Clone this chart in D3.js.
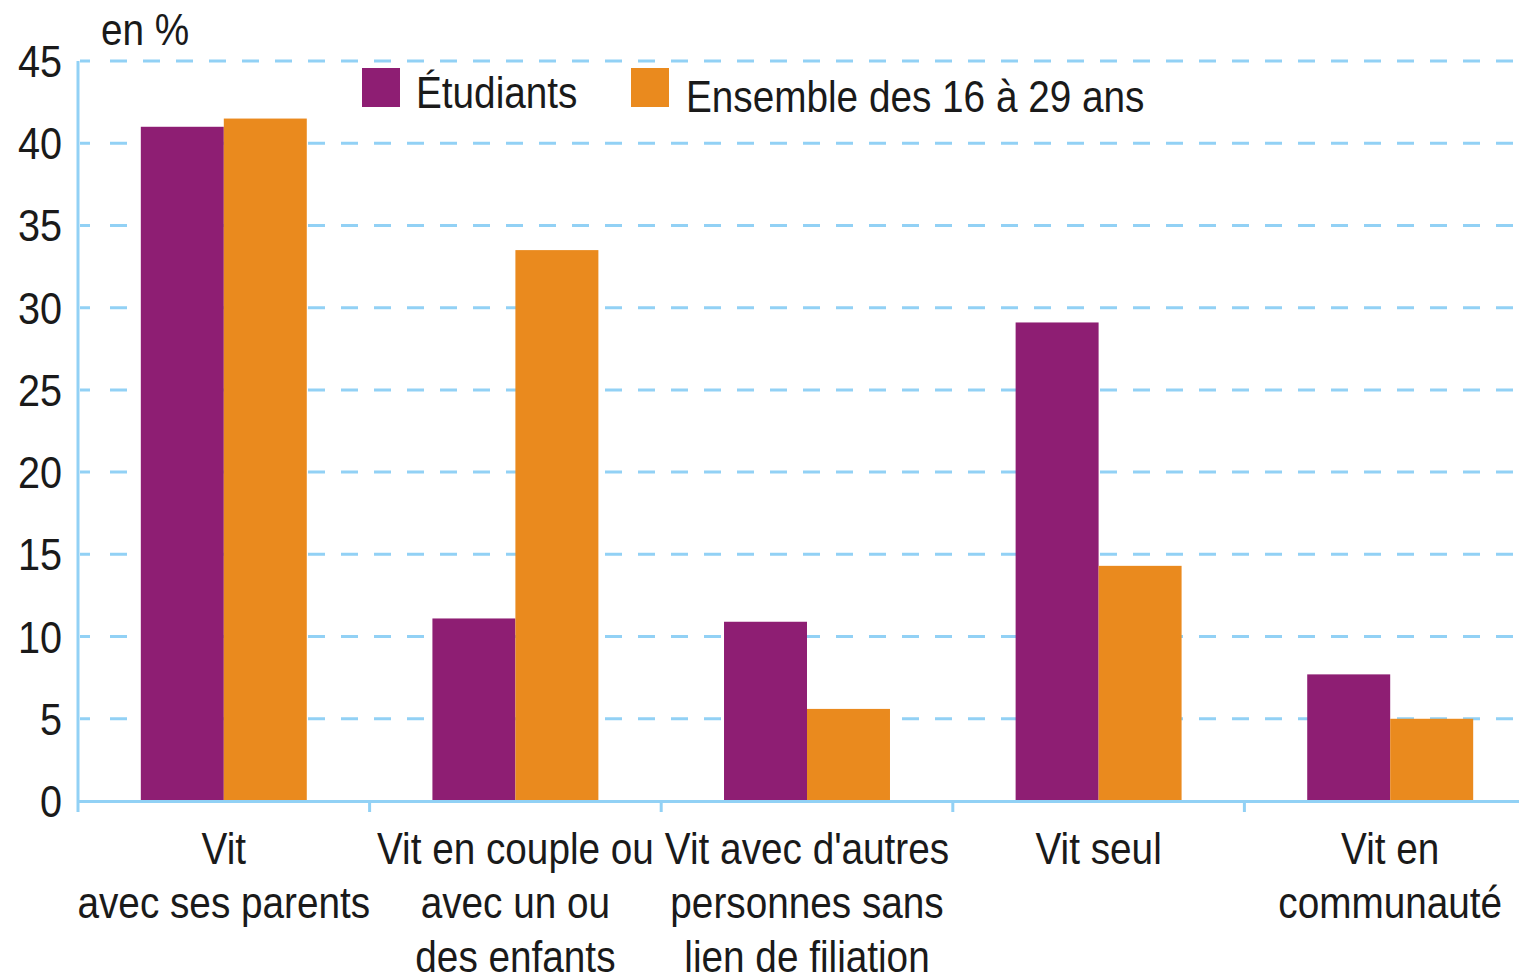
<!DOCTYPE html>
<html>
<head>
<meta charset="utf-8">
<script src="https://cdn.jsdelivr.net/npm/d3@7"></script>
<style>
  body { margin: 0; background: white; }
  svg text { font-family: "Liberation Sans", Arial, sans-serif; fill: #1a1a1a; }
</style>
</head>
<body>
<div id="chart"></div>
<script>
// Données
var categories = [
  ["Vit", "avec ses parents"],
  ["Vit en couple ou", "avec un ou", "des enfants"],
  ["Vit avec d'autres", "personnes sans", "lien de filiation"],
  ["Vit seul"],
  ["Vit en", "communauté"]
];
var series = ["Étudiants", "Ensemble des 16 à 29 ans"];
var etudiants = [41, 11.1, 10.9, 29.1, 7.7];
var ensemble = [41.5, 33.5, 5.6, 14.3, 5.0];
var yTicks = [0, 5, 10, 15, 20, 25, 30, 35, 40, 45];

var chart_width = 1519;
var chart_height = 980;
var couleurs = ["#8e1e73", "#ea8a1e"];
var bleu = "#92d1f5";
var etroit = 0.88; // police condensée simulée

// place un texte condensé en (x, y)
function condense(x, y) {
  return "translate(" + x + "," + y + ") scale(" + etroit + ",1)";
}

var svg = d3.select("#chart")
  .append("svg")
  .attr("width", chart_width)
  .attr("height", chart_height);

var escalaY = d3.scaleLinear()
  .domain([0, 45])
  .range([801, 61]);

var idx = d3.range(categories.length);
var escalaX = d3.scaleBand()
  .domain(idx)
  .range([78, 78 + 291.6 * 5]);

var escalaX2 = d3.scaleBand()
  .domain([0, 1])
  .range([0, escalaX.bandwidth()])
  .paddingOuter(0.757);

// Grille en pointillés
var tirets = "10,20";
for (var k = 0; k < 50; k++) { tirets += " 17,16"; }
svg.append("g")
  .selectAll("line")
  .data(yTicks.filter(function (d) { return d > 0; }))
  .enter()
  .append("line")
  .attr("x1", 80)
  .attr("x2", chart_width)
  .attr("y1", function (d) { return escalaY(d); })
  .attr("y2", function (d) { return escalaY(d); })
  .attr("stroke", bleu)
  .attr("stroke-width", 3)
  .attr("stroke-dasharray", tirets);

// Barres
var groupes = svg.append("g")
  .selectAll("g")
  .data(idx)
  .enter()
  .append("g")
  .attr("transform", function (i) { return "translate(" + escalaX(i) + ",0)"; });

groupes.selectAll("rect")
  .data(function (i) { return [etudiants[i], ensemble[i]]; })
  .enter()
  .append("rect")
  .attr("x", function (d, j) { return escalaX2(j); })
  .attr("width", escalaX2.bandwidth())
  .attr("y", function (d) { return escalaY(d); })
  .attr("height", function (d) { return escalaY(0) - escalaY(d); })
  .attr("fill", function (d, j) { return couleurs[j]; });

// Axes
svg.append("line")
  .attr("x1", 78).attr("x2", 78)
  .attr("y1", escalaY(45)).attr("y2", 812)
  .attr("stroke", bleu).attr("stroke-width", 3);

svg.append("line")
  .attr("x1", 78).attr("x2", chart_width)
  .attr("y1", 801.5).attr("y2", 801.5)
  .attr("stroke", bleu).attr("stroke-width", 3);

svg.append("g")
  .selectAll("line")
  .data(idx.slice(1))
  .enter()
  .append("line")
  .attr("x1", function (i) { return escalaX(i); })
  .attr("x2", function (i) { return escalaX(i); })
  .attr("y1", 801)
  .attr("y2", 812)
  .attr("stroke", bleu)
  .attr("stroke-width", 3);

// Étiquettes de l'axe Y
svg.append("g")
  .selectAll("text")
  .data(yTicks)
  .enter()
  .append("text")
  .attr("transform", function (d) { return condense(62, escalaY(d) + 16); })
  .attr("text-anchor", "end")
  .style("font-size", "45px")
  .text(function (d) { return d; });

svg.append("text")
  .attr("transform", condense(101, 45))
  .style("font-size", "44px")
  .text("en %");

// Étiquettes des catégories
var etiquettes = svg.append("g")
  .selectAll("text")
  .data(idx)
  .enter()
  .append("text")
  .attr("transform", function (i) { return condense(escalaX(i) + escalaX.bandwidth() / 2, 864); })
  .attr("text-anchor", "middle")
  .style("font-size", "44px");

etiquettes.selectAll("tspan")
  .data(function (i) { return categories[i]; })
  .enter()
  .append("tspan")
  .attr("x", 0)
  .attr("dy", function (d, k) { return k === 0 ? 0 : 54; })
  .text(function (d) { return d; });

// Légende
var legende = [
  { x: 362, tx: 416, ty: 108 },
  { x: 631, tx: 686, ty: 112 }
];
legende.forEach(function (l, j) {
  svg.append("rect")
    .attr("x", l.x).attr("y", 68)
    .attr("width", 38).attr("height", 39)
    .attr("fill", couleurs[j]);
  svg.append("text")
    .attr("transform", condense(l.tx, l.ty))
    .style("font-size", "44px")
    .text(series[j]);
});
</script>
</body>
</html>
